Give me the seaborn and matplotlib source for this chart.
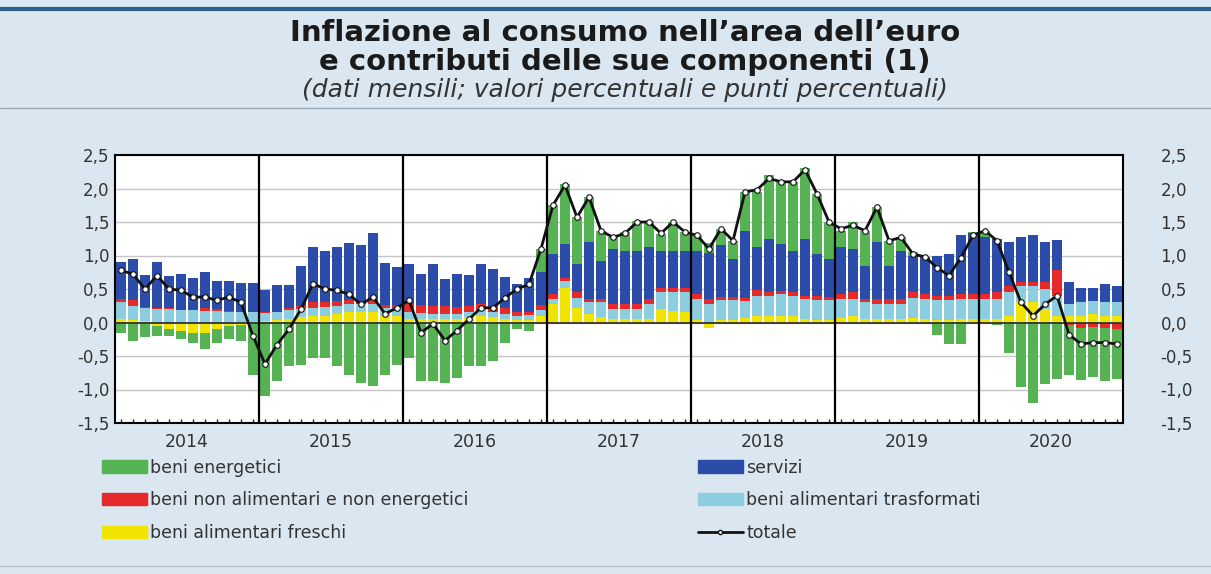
import numpy as np
import pandas as pd
import matplotlib
matplotlib.use("Agg")
import matplotlib.pyplot as plt
from matplotlib.patches import Patch
from matplotlib.lines import Line2D
import seaborn as sns

# Monthly contributions, Jan 2014 - Dec 2020 (percentage points)
anni = ["2014", "2015", "2016", "2017", "2018", "2019", "2020"]

freschi = [
    0.05, 0.03, 0.02, -0.05, -0.10, -0.12, -0.15, -0.15, -0.10, -0.05, -0.03, 0.00,
    0.02, 0.03, 0.05, 0.08, 0.10, 0.10, 0.12, 0.15, 0.15, 0.15, 0.10, 0.10,
    0.05, 0.05, 0.05, 0.05, 0.05, 0.08, 0.10, 0.08, 0.05, 0.03, 0.03, 0.10,
    0.27, 0.52, 0.22, 0.12, 0.08, 0.05, 0.05, 0.05, 0.05, 0.20, 0.17, 0.15,
    0.03, -0.08, 0.03, 0.03, 0.07, 0.10, 0.10, 0.10, 0.10, 0.05, 0.03, 0.03,
    0.07, 0.10, 0.05, 0.05, 0.05, 0.05, 0.07, 0.05, 0.03, 0.03, 0.05, 0.05,
    0.05, 0.05, 0.10, 0.30, 0.30, 0.20, 0.10, 0.10, 0.10, 0.12, 0.10, 0.10,
]
trasformati = [
    0.25, 0.22, 0.20, 0.20, 0.20, 0.18, 0.18, 0.17, 0.17, 0.15, 0.15, 0.15,
    0.12, 0.12, 0.13, 0.12, 0.12, 0.13, 0.12, 0.12, 0.12, 0.12, 0.11, 0.11,
    0.10, 0.09, 0.08, 0.08, 0.08, 0.07, 0.08, 0.08, 0.08, 0.07, 0.08, 0.08,
    0.08, 0.10, 0.15, 0.18, 0.22, 0.15, 0.15, 0.15, 0.22, 0.25, 0.28, 0.30,
    0.32, 0.27, 0.30, 0.30, 0.25, 0.30, 0.30, 0.32, 0.30, 0.30, 0.30, 0.30,
    0.28, 0.25, 0.25, 0.23, 0.23, 0.23, 0.30, 0.30, 0.30, 0.30, 0.30, 0.30,
    0.30, 0.30, 0.35, 0.25, 0.25, 0.30, 0.30, 0.17, 0.20, 0.20, 0.20, 0.20,
]
non_energetici = [
    0.05, 0.08, 0.01, 0.02, 0.01, 0.01, 0.01, 0.05, 0.03, 0.02, 0.01, 0.01,
    0.01, 0.01, 0.03, 0.05, 0.08, 0.08, 0.08, 0.06, 0.05, 0.06, 0.05, 0.05,
    0.12, 0.12, 0.12, 0.12, 0.10, 0.10, 0.10, 0.08, 0.08, 0.05, 0.05, 0.08,
    0.07, 0.05, 0.08, 0.05, 0.05, 0.08, 0.08, 0.08, 0.08, 0.07, 0.07, 0.07,
    0.07, 0.08, 0.05, 0.05, 0.05, 0.08, 0.05, 0.05, 0.05, 0.05, 0.07, 0.05,
    0.07, 0.10, 0.05, 0.07, 0.07, 0.07, 0.08, 0.08, 0.07, 0.07, 0.08, 0.08,
    0.07, 0.10, 0.10, 0.05, 0.05, 0.10, 0.38, -0.03, -0.08, -0.07, -0.08, -0.10,
]
servizi = [
    0.55, 0.62, 0.48, 0.68, 0.48, 0.54, 0.47, 0.53, 0.42, 0.45, 0.43, 0.43,
    0.34, 0.40, 0.35, 0.59, 0.82, 0.75, 0.81, 0.86, 0.83, 1.00, 0.63, 0.57,
    0.61, 0.47, 0.63, 0.40, 0.49, 0.46, 0.60, 0.56, 0.47, 0.42, 0.51, 0.50,
    0.60, 0.50, 0.42, 0.85, 0.57, 0.82, 0.79, 0.79, 0.77, 0.55, 0.55, 0.55,
    0.65, 0.68, 0.77, 0.57, 1.00, 0.64, 0.80, 0.70, 0.62, 0.85, 0.62, 0.57,
    0.70, 0.65, 0.50, 0.85, 0.50, 0.72, 0.55, 0.55, 0.60, 0.62, 0.87, 0.90,
    0.85, 0.80, 0.65, 0.67, 0.70, 0.60, 0.45, 0.33, 0.22, 0.20, 0.27, 0.25,
]
energetici = [
    -0.15, -0.28, -0.22, -0.15, -0.10, -0.12, -0.15, -0.25, -0.20, -0.20, -0.25, -0.78,
    -1.10, -0.88, -0.65, -0.63, -0.53, -0.53, -0.65, -0.78, -0.90, -0.95, -0.78, -0.63,
    -0.53, -0.88, -0.88, -0.90, -0.83, -0.65, -0.65, -0.58, -0.30, -0.10, -0.12, 0.33,
    0.73, 0.90, 0.70, 0.67, 0.45, 0.17, 0.28, 0.45, 0.40, 0.25, 0.43, 0.28,
    0.23, 0.15, 0.25, 0.27, 0.58, 0.83, 0.95, 0.93, 1.03, 1.05, 0.90, 0.55,
    0.25, 0.40, 0.52, 0.52, 0.37, 0.20, 0.05, 0.00, -0.18, -0.32, -0.32, 0.02,
    0.10, -0.03, -0.45, -0.97, -1.20, -0.92, -0.85, -0.75, -0.78, -0.75, -0.80, -0.75,
]
totale = [
    0.78, 0.72, 0.50, 0.70, 0.50, 0.48, 0.38, 0.38, 0.33, 0.38, 0.30, -0.20,
    -0.62, -0.33, -0.10, 0.20, 0.58, 0.50, 0.48, 0.42, 0.27, 0.38, 0.13, 0.22,
    0.33, -0.15, -0.02, -0.27, -0.12, 0.05, 0.22, 0.22, 0.37, 0.50, 0.57, 1.10,
    1.75, 2.05, 1.57, 1.87, 1.37, 1.27, 1.33, 1.50, 1.50, 1.33, 1.50, 1.35,
    1.30, 1.10, 1.40, 1.22, 1.95, 1.98, 2.15, 2.10, 2.10, 2.28, 1.92, 1.50,
    1.40, 1.45, 1.37, 1.72, 1.22, 1.27, 1.02, 0.98, 0.82, 0.70, 0.97, 1.30,
    1.37, 1.22, 0.75, 0.30, 0.10, 0.27, 0.40, -0.18, -0.32, -0.30, -0.30, -0.32,
]

sns.set_style("white")
plt.rcParams["font.family"] = ["DejaVu Sans"]

BG = "#dae7f0"
colori = {
    "freschi": "#f0e400",
    "trasformati": "#8ccde0",
    "non_energetici": "#e42a2a",
    "servizi": "#2b4da9",
    "energetici": "#55b354",
}

fig = plt.figure(figsize=(12.11, 5.74), dpi=100, facecolor=BG)
W, H = 1211, 574

# header
fig.add_artist(Line2D([0, 1], [1 - 9 / H] * 2, color="#2e5f8a", lw=3))
fig.add_artist(Line2D([0, 1], [1 - 108 / H] * 2, color="#9aa9b6", lw=1))
fig.add_artist(Line2D([0, 1], [1 - 566 / H] * 2, color="#b5c5d2", lw=1))
fig.text(0.516, 1 - 33 / H, "Inflazione al consumo nell’area dell’euro",
         ha="center", va="center", fontsize=21, weight="bold", color="#1a1a1a")
fig.text(0.516, 1 - 62 / H, "e contributi delle sue componenti (1)",
         ha="center", va="center", fontsize=21, weight="bold", color="#1a1a1a")
fig.text(0.516, 1 - 90 / H, "(dati mensili; valori percentuali e punti percentuali)",
         ha="center", va="center", fontsize=18, style="italic", color="#333333")

ax = fig.add_axes([115 / W, 151 / H, 1008 / W, 268 / H])
ax.set_facecolor("white")
x = np.arange(len(totale))

# stacked bars, positive parts upwards and negative parts downwards
strati = [
    ("freschi", freschi),
    ("trasformati", trasformati),
    ("non_energetici", non_energetici),
    ("servizi", servizi),
    ("energetici", energetici),
]
pos_base = np.zeros(len(x))
neg_base = np.zeros(len(x))
for nome, vals in strati:
    v = np.array(vals)
    pos = np.clip(v, 0, None)
    neg = np.clip(v, None, 0)
    ax.bar(x, pos, bottom=pos_base, width=0.78, color=colori[nome], lw=0, zorder=2)
    ax.bar(x, neg, bottom=neg_base, width=0.78, color=colori[nome], lw=0, zorder=2)
    pos_base += pos
    neg_base += neg

ax.axhline(0, color="#333333", lw=1.3, zorder=3)
for k in range(1, len(anni)):
    ax.axvline(12 * k - 0.5, color="black", lw=1.6, zorder=3)

sns.lineplot(x=x, y=totale, ax=ax, color="#111111", lw=2, marker="o", markersize=4,
             markerfacecolor="white", markeredgecolor="#111111", markeredgewidth=0.8,
             zorder=5)

ax.set_xlim(-0.5, len(x) - 0.5)
ax.set_ylim(-1.5, 2.5)
yt = np.arange(-1.5, 2.51, 0.5)
ylab = [f"{v:.1f}".replace(".", ",") for v in yt]
ax.set_yticks(yt)
ax.set_yticklabels(ylab)
ax.yaxis.grid(True, color="#c6c6c6", lw=1)
ax.set_axisbelow(True)
ax.tick_params(axis="y", length=0, labelsize=12, labelcolor="#333333", pad=4)

ax.set_xticks([12 * k + 5.5 for k in range(len(anni))])
ax.set_xticklabels(anni)
ax.set_xticks(x, minor=True)
ax.tick_params(axis="x", which="major", length=0, labelsize=12.5, labelcolor="#333333", pad=7)
ax.tick_params(axis="x", which="minor", direction="in", length=3, width=1, color="#222222",
               bottom=True)

for s in ax.spines.values():
    s.set_color("black")
    s.set_linewidth(1.5)

ax2 = ax.twinx()
ax2.set_ylim(-1.5, 2.5)
ax2.set_yticks(yt)
ax2.set_yticklabels(ylab)
ax2.tick_params(axis="y", length=0, labelsize=12, labelcolor="#333333", pad=27)
for s in ax2.spines.values():
    s.set_visible(False)

handles = [
    Patch(color=colori["energetici"]),
    Patch(color=colori["non_energetici"]),
    Patch(color=colori["freschi"]),
    Patch(color=colori["servizi"]),
    Patch(color=colori["trasformati"]),
    Line2D([], [], color="#111111", lw=2, marker="o", markersize=3,
           markerfacecolor="white", markeredgecolor="#111111"),
]
labels = [
    "beni energetici",
    "beni non alimentari e non energetici",
    "beni alimentari freschi",
    "servizi",
    "beni alimentari trasformati",
    "totale",
]
leg = fig.legend(handles, labels, ncol=2, loc="upper left",
                 bbox_to_anchor=(86 / W, 1 - 443 / H), frameon=False, fontsize=12.5,
                 handlelength=2.6, handleheight=0.7, handletextpad=0.2,
                 labelspacing=0.85, columnspacing=13.2)
for t in leg.get_texts():
    t.set_color("#333333")

fig.savefig("out.png", dpi=100, facecolor=fig.get_facecolor())
